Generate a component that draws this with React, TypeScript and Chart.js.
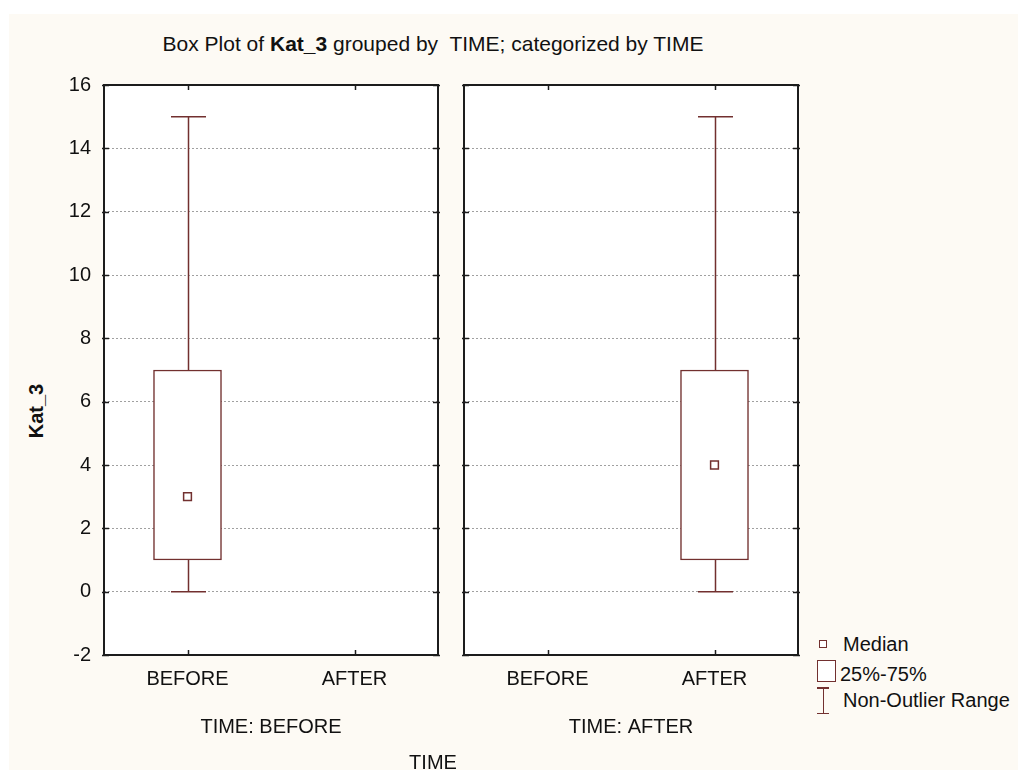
import React, { useEffect, useRef } from 'react';
import { Chart, registerables } from 'chart.js';

Chart.register(...registerables);

// ---------- data ----------
const categories = ['BEFORE', 'AFTER'];
const panelLabels = ['TIME: BEFORE', 'TIME: AFTER'];
const yMin = -2;
const yMax = 16;
const yStep = 2;

// panel 1 (TIME: BEFORE)
const p1Median = [3, null];
const p1Q1 = [1, null];
const p1Q3 = [7, null];
const p1Min = [0, null];
const p1Max = [15, null];

// panel 2 (TIME: AFTER)
const p2Median = [null, 4];
const p2Q1 = [null, 1];
const p2Q3 = [null, 7];
const p2Min = [null, 0];
const p2Max = [null, 15];

const titleText = 'Box Plot of ';
const titleBold = 'Kat_3';
const titleRest = ' grouped by  TIME; categorized by TIME';
const yTitle = 'Kat_3';
const xTitle = 'TIME';
const legendLabels = ['Median', '25%-75%', 'Non-Outlier Range'];

const MAROON = '#72302f';
const FONT = 'Arial, "Liberation Sans", sans-serif';

type PanelProps = {
  median: (number | null)[];
  q1: (number | null)[];
  q3: (number | null)[];
  lo: (number | null)[];
  hi: (number | null)[];
  label: string;
  showY: boolean;
  width: number;
  height: number;
  yAxisWidth: number;
  padRight: number;
  left: number;
};

function Panel(p: PanelProps) {
  const ref = useRef<HTMLCanvasElement | null>(null);
  useEffect(() => {
    if (!ref.current) return;
    const framePlugin = {
      id: 'frame',
      beforeDraw(chart: any) {
        const { ctx, chartArea: a } = chart;
        ctx.save();
        ctx.fillStyle = '#ffffff';
        ctx.fillRect(a.left, a.top, a.right - a.left, a.bottom - a.top);
        ctx.restore();
      },
      beforeDatasetsDraw(chart: any) {
        const { ctx } = chart;
        const x = chart.scales.x;
        const y = chart.scales.y;
        ctx.save();
        ctx.strokeStyle = MAROON;
        ctx.lineWidth = 1.5;
        categories.forEach((_, i) => {
          const lo = p.lo[i], hi = p.hi[i], a = p.q1[i], b = p.q3[i];
          if (lo == null || hi == null || a == null || b == null) return;
          const cx = Math.round(x.getPixelForValue(i)) + 0.5;
          const capHalf = 17.5;
          ctx.beginPath();
          ctx.moveTo(cx, y.getPixelForValue(b));
          ctx.lineTo(cx, y.getPixelForValue(hi));
          ctx.moveTo(cx, y.getPixelForValue(a));
          ctx.lineTo(cx, y.getPixelForValue(lo));
          ctx.moveTo(cx - capHalf, y.getPixelForValue(hi));
          ctx.lineTo(cx + capHalf, y.getPixelForValue(hi));
          ctx.moveTo(cx - capHalf, y.getPixelForValue(lo));
          ctx.lineTo(cx + capHalf, y.getPixelForValue(lo));
          ctx.stroke();
        });
        ctx.restore();
      },
      afterDraw(chart: any) {
        const { ctx, chartArea: a } = chart;
        const x = chart.scales.x;
        const y = chart.scales.y;
        ctx.save();
        ctx.strokeStyle = '#1c1c1c';
        ctx.lineWidth = 2;
        ctx.strokeRect(a.left, a.top, a.right - a.left, a.bottom - a.top);
        ctx.lineWidth = 1.5;
        ctx.beginPath();
        y.ticks.forEach((t: any) => {
          const py = Math.round(y.getPixelForValue(t.value)) + 0.5;
          ctx.moveTo(a.left - 2, py);
          ctx.lineTo(a.left + 5, py);
          ctx.moveTo(a.right - 5, py);
          ctx.lineTo(a.right + 2, py);
        });
        categories.forEach((_, i) => {
          const px = Math.round(x.getPixelForValue(i)) + 0.5;
          ctx.moveTo(px, a.top);
          ctx.lineTo(px, a.top + 5);
          ctx.moveTo(px, a.bottom - 5);
          ctx.lineTo(px, a.bottom);
        });
        ctx.stroke();
        ctx.restore();
      },
    };

    const chart = new Chart(ref.current, {
      type: 'bar',
      data: {
        labels: categories,
        datasets: [
          {
            type: 'line',
            label: 'Median',
            order: 0,
            data: p.median as any,
            showLine: false,
            pointStyle: 'rect',
            pointRadius: 5.5,
            pointBorderWidth: 1.5,
            pointBorderColor: MAROON,
            pointBackgroundColor: '#ffffff',
            borderColor: MAROON,
          },
          {
            type: 'bar',
            label: '25%-75%',
            order: 1,
            data: categories.map((_, i) =>
              p.q1[i] == null || p.q3[i] == null ? null : [p.q1[i], p.q3[i]]
            ) as any,
            backgroundColor: '#ffffff',
            borderColor: MAROON,
            borderWidth: 1.5,
            borderSkipped: false,
            barThickness: 68,
          },
        ],
      },
      options: {
        animation: false,
        responsive: false,
        devicePixelRatio: 1,
        layout: { padding: { top: 77, right: p.padRight, left: 0, bottom: 0 } },
        plugins: {
          legend: { display: false },
          tooltip: { enabled: false },
          title: { display: false },
        },
        scales: {
          x: {
            type: 'category',
            offset: true,
            grid: { display: false, drawTicks: false },
            border: { display: false },
            ticks: {
              color: '#111',
              font: { family: FONT, size: 20 },
              padding: 12,
            },
            title: {
              display: true,
              text: p.label,
              color: '#111',
              font: { family: FONT, size: 20 },
              padding: { top: 0, bottom: 29 },
            },
            afterFit: (s: any) => {
              s.height = 113;
            },
          },
          y: {
            min: yMin,
            max: yMax,
            grid: { color: '#a0a0a0', lineWidth: 1, drawTicks: false },
            border: { display: false, dash: [2, 2] },
            ticks: {
              display: p.showY,
              stepSize: yStep,
              color: '#111',
              font: { family: FONT, size: 20 },
              padding: 13,
            },
            afterFit: (s: any) => {
              s.width = p.yAxisWidth;
            },
          },
        },
      },
      plugins: [framePlugin],
    });
    return () => chart.destroy();
  }, []);
  return (
    <canvas
      ref={ref}
      width={p.width}
      height={p.height}
      style={{ position: 'absolute', left: p.left, top: 0, width: p.width, height: p.height }}
    />
  );
}

const textStyle: React.CSSProperties = {
  position: 'absolute',
  fontFamily: FONT,
  fontSize: 20,
  lineHeight: '24px',
  color: '#111',
  whiteSpace: 'pre',
};

export default function App() {
  return (
    <div style={{ position: 'relative', width: 1018, height: 762, background: '#ffffff', overflow: 'hidden' }}>
      <div style={{ position: 'absolute', left: 1, top: 6, right: 0, bottom: 0, background: '#fdfaf4' }} />
      <div style={{ ...textStyle, left: 425, top: 24, fontSize: 21, transform: 'translateX(-50%)' }}>
        {titleText}
        <b>{titleBold}</b>
        {titleRest}
      </div>
      <div
        style={{
          ...textStyle,
          left: 28,
          top: 403,
          fontWeight: 'bold',
          transform: 'translate(-50%, -50%) rotate(-90deg)',
        }}
      >
        {yTitle}
      </div>
      <Panel
        median={p1Median}
        q1={p1Q1}
        q3={p1Q3}
        lo={p1Min}
        hi={p1Max}
        label={panelLabels[0]}
        showY={true}
        width={450}
        height={760}
        yAxisWidth={96}
        padRight={20}
        left={0}
      />
      <Panel
        median={p2Median}
        q1={p2Q1}
        q3={p2Q3}
        lo={p2Min}
        hi={p2Max}
        label={panelLabels[1]}
        showY={false}
        width={355}
        height={760}
        yAxisWidth={9}
        padRight={12}
        left={447}
      />
      <div style={{ ...textStyle, left: 425, top: 742, transform: 'translateX(-50%)' }}>{xTitle}</div>
      {/* legend */}
      <div
        style={{
          position: 'absolute',
          left: 811,
          top: 632,
          width: 8,
          height: 8,
          boxSizing: 'border-box',
          border: `1.5px solid ${MAROON}`,
          background: '#fff',
        }}
      />
      <div style={{ ...textStyle, left: 835, top: 624 }}>{legendLabels[0]}</div>
      <div
        style={{
          position: 'absolute',
          left: 809,
          top: 652,
          width: 19,
          height: 22,
          boxSizing: 'border-box',
          border: `1.5px solid ${MAROON}`,
          background: '#fff',
        }}
      />
      <div style={{ ...textStyle, left: 832, top: 654 }}>{legendLabels[1]}</div>
      <div style={{ position: 'absolute', left: 814.5, top: 679, width: 1.5, height: 27, background: MAROON }} />
      <div style={{ position: 'absolute', left: 809, top: 679, width: 12, height: 1.5, background: MAROON }} />
      <div style={{ position: 'absolute', left: 809, top: 704.5, width: 12, height: 1.5, background: MAROON }} />
      <div style={{ ...textStyle, left: 835, top: 680 }}>{legendLabels[2]}</div>
    </div>
  );
}
